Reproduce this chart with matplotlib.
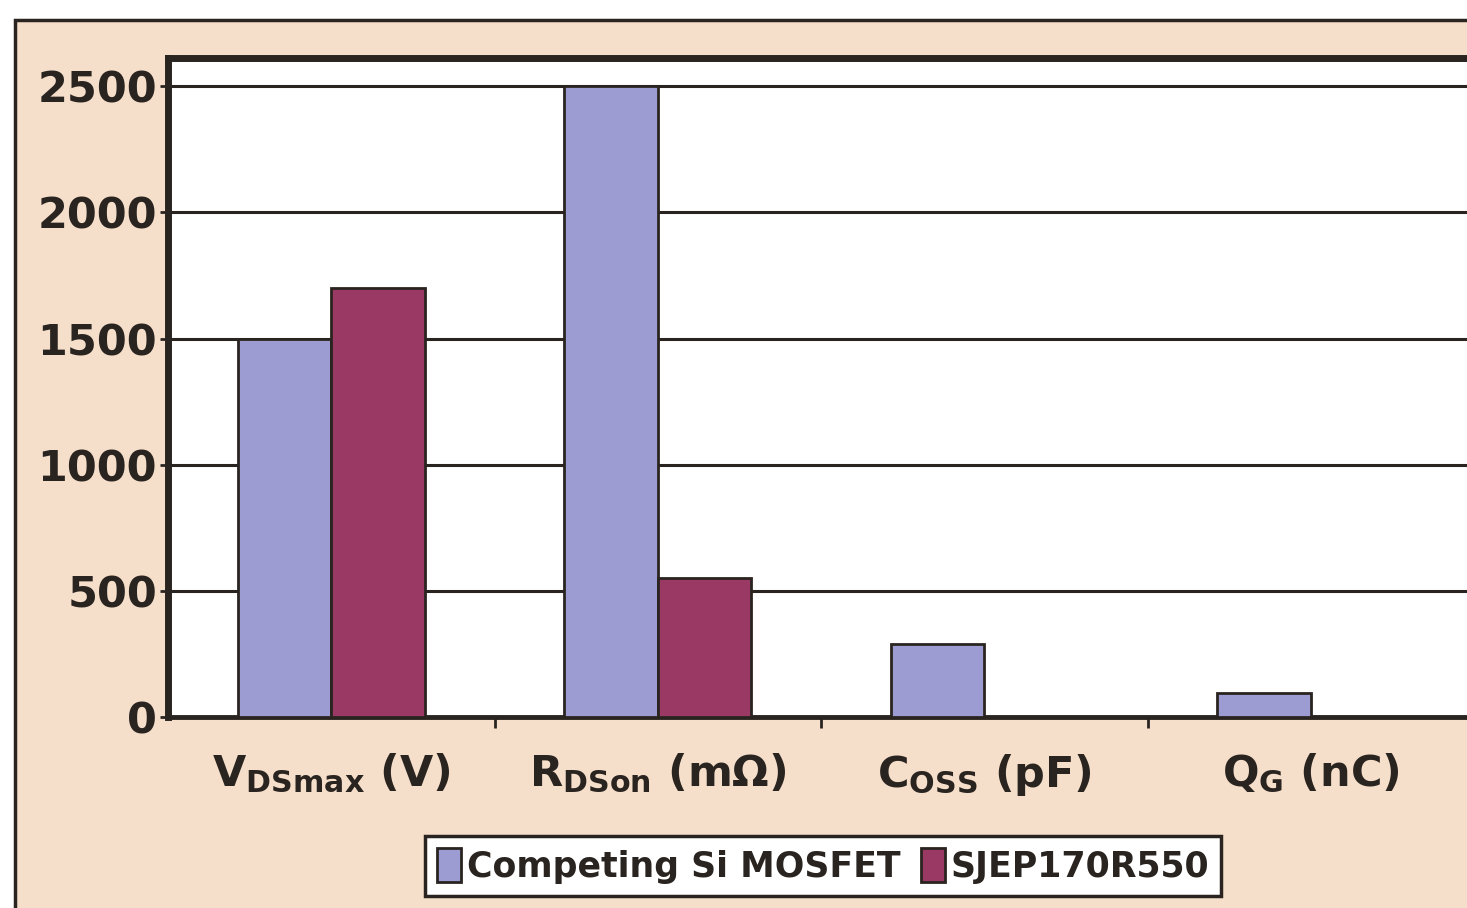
import matplotlib
matplotlib.use("Agg")
import matplotlib.pyplot as plt
from matplotlib.patches import Rectangle
import numpy as np

categories = [r"V$_{\mathbf{DSmax}}$ (V)", r"R$_{\mathbf{DSon}}$ (mΩ)",
              r"C$_{\mathbf{OSS}}$ (pF)", r"Q$_{\mathbf{G}}$ (nC)"]
series_names = ["Competing Si MOSFET", "SJEP170R550"]
si_mosfet = [1500, 2500, 290, 95]
sjep = [1700, 550, 0, 0]
y_ticks = [0, 500, 1000, 1500, 2000, 2500]

plt.rcParams["font.family"] = ["DejaVu Sans"]
plt.rcParams["font.weight"] = "bold"
plt.rcParams["mathtext.fontset"] = "custom"
plt.rcParams["mathtext.bf"] = "DejaVu Sans:bold"
plt.rcParams["mathtext.rm"] = "DejaVu Sans:bold"
plt.rcParams["mathtext.default"] = "bf"

INK = "#2a2420"
PEACH = "#F6DFCA"
LAV = "#9C9CD2"
MAROON = "#9A3A64"

fig = plt.figure(figsize=(14.67, 9.08), dpi=100)
fig.patch.set_facecolor("white")

# Peach chart frame behind everything
W, H = 1467, 908
fig.patches.append(Rectangle((15 / W, -0.2), 1.2, 1.2 - 20 / H,
                             transform=fig.transFigure, facecolor=PEACH,
                             edgecolor=INK, linewidth=2.5, zorder=-5))

ax = fig.add_axes([168 / W, 1 - 717 / H, (1474 - 168) / W, (717 - 58) / H])
ax.set_zorder(2)
ax.set_facecolor("white")

x = np.arange(len(categories))
width = 1 / 3.5
ax.bar(x - width / 2, si_mosfet, width, color=LAV, edgecolor=INK,
       linewidth=2, label=series_names[0], zorder=3)
ax.bar(x + width / 2, sjep, width, color=MAROON, edgecolor=INK,
       linewidth=2, label=series_names[1], zorder=3)

ax.set_xlim(-0.5, 3.5)
ax.set_ylim(0, 2612)
ax.set_yticks(y_ticks)
ax.yaxis.grid(True, color=INK, linewidth=2.2, zorder=1)
ax.set_axisbelow(True)

ax.set_xticks(x)
ax.set_xticklabels(categories)
ax.set_xticks([0.5, 1.5, 2.5], minor=True)
ax.tick_params(axis="x", which="major", length=0, pad=25, labelsize=31,
               labelcolor=INK)
ax.tick_params(axis="x", which="minor", length=8, width=2, color=INK,
               direction="out")
ax.tick_params(axis="y", length=6, width=2, color=INK, pad=2, labelsize=31,
               labelcolor=INK)
for lbl in ax.get_yticklabels() + ax.get_xticklabels():
    lbl.set_fontweight("bold")

ax.spines["left"].set_linewidth(5)
ax.spines["top"].set_linewidth(5)
ax.spines["bottom"].set_linewidth(3.5)
ax.spines["right"].set_visible(False)
for s in ax.spines.values():
    s.set_color(INK)

leg = fig.legend(loc="center", bbox_to_anchor=(823 / W, 1 - 866 / H),
                 ncol=2, fontsize=25, frameon=True, fancybox=False,
                 framealpha=1, handlelength=0.7, handleheight=1.1,
                 handletextpad=0.15, columnspacing=0.6, borderpad=0.35,
                 borderaxespad=0)
leg.set_zorder(5)
leg.get_frame().set_edgecolor(INK)
leg.get_frame().set_linewidth(2.5)
for t in leg.get_texts():
    t.set_color(INK)
    t.set_fontweight("bold")

fig.savefig("out.png", dpi=100, facecolor=fig.get_facecolor())
